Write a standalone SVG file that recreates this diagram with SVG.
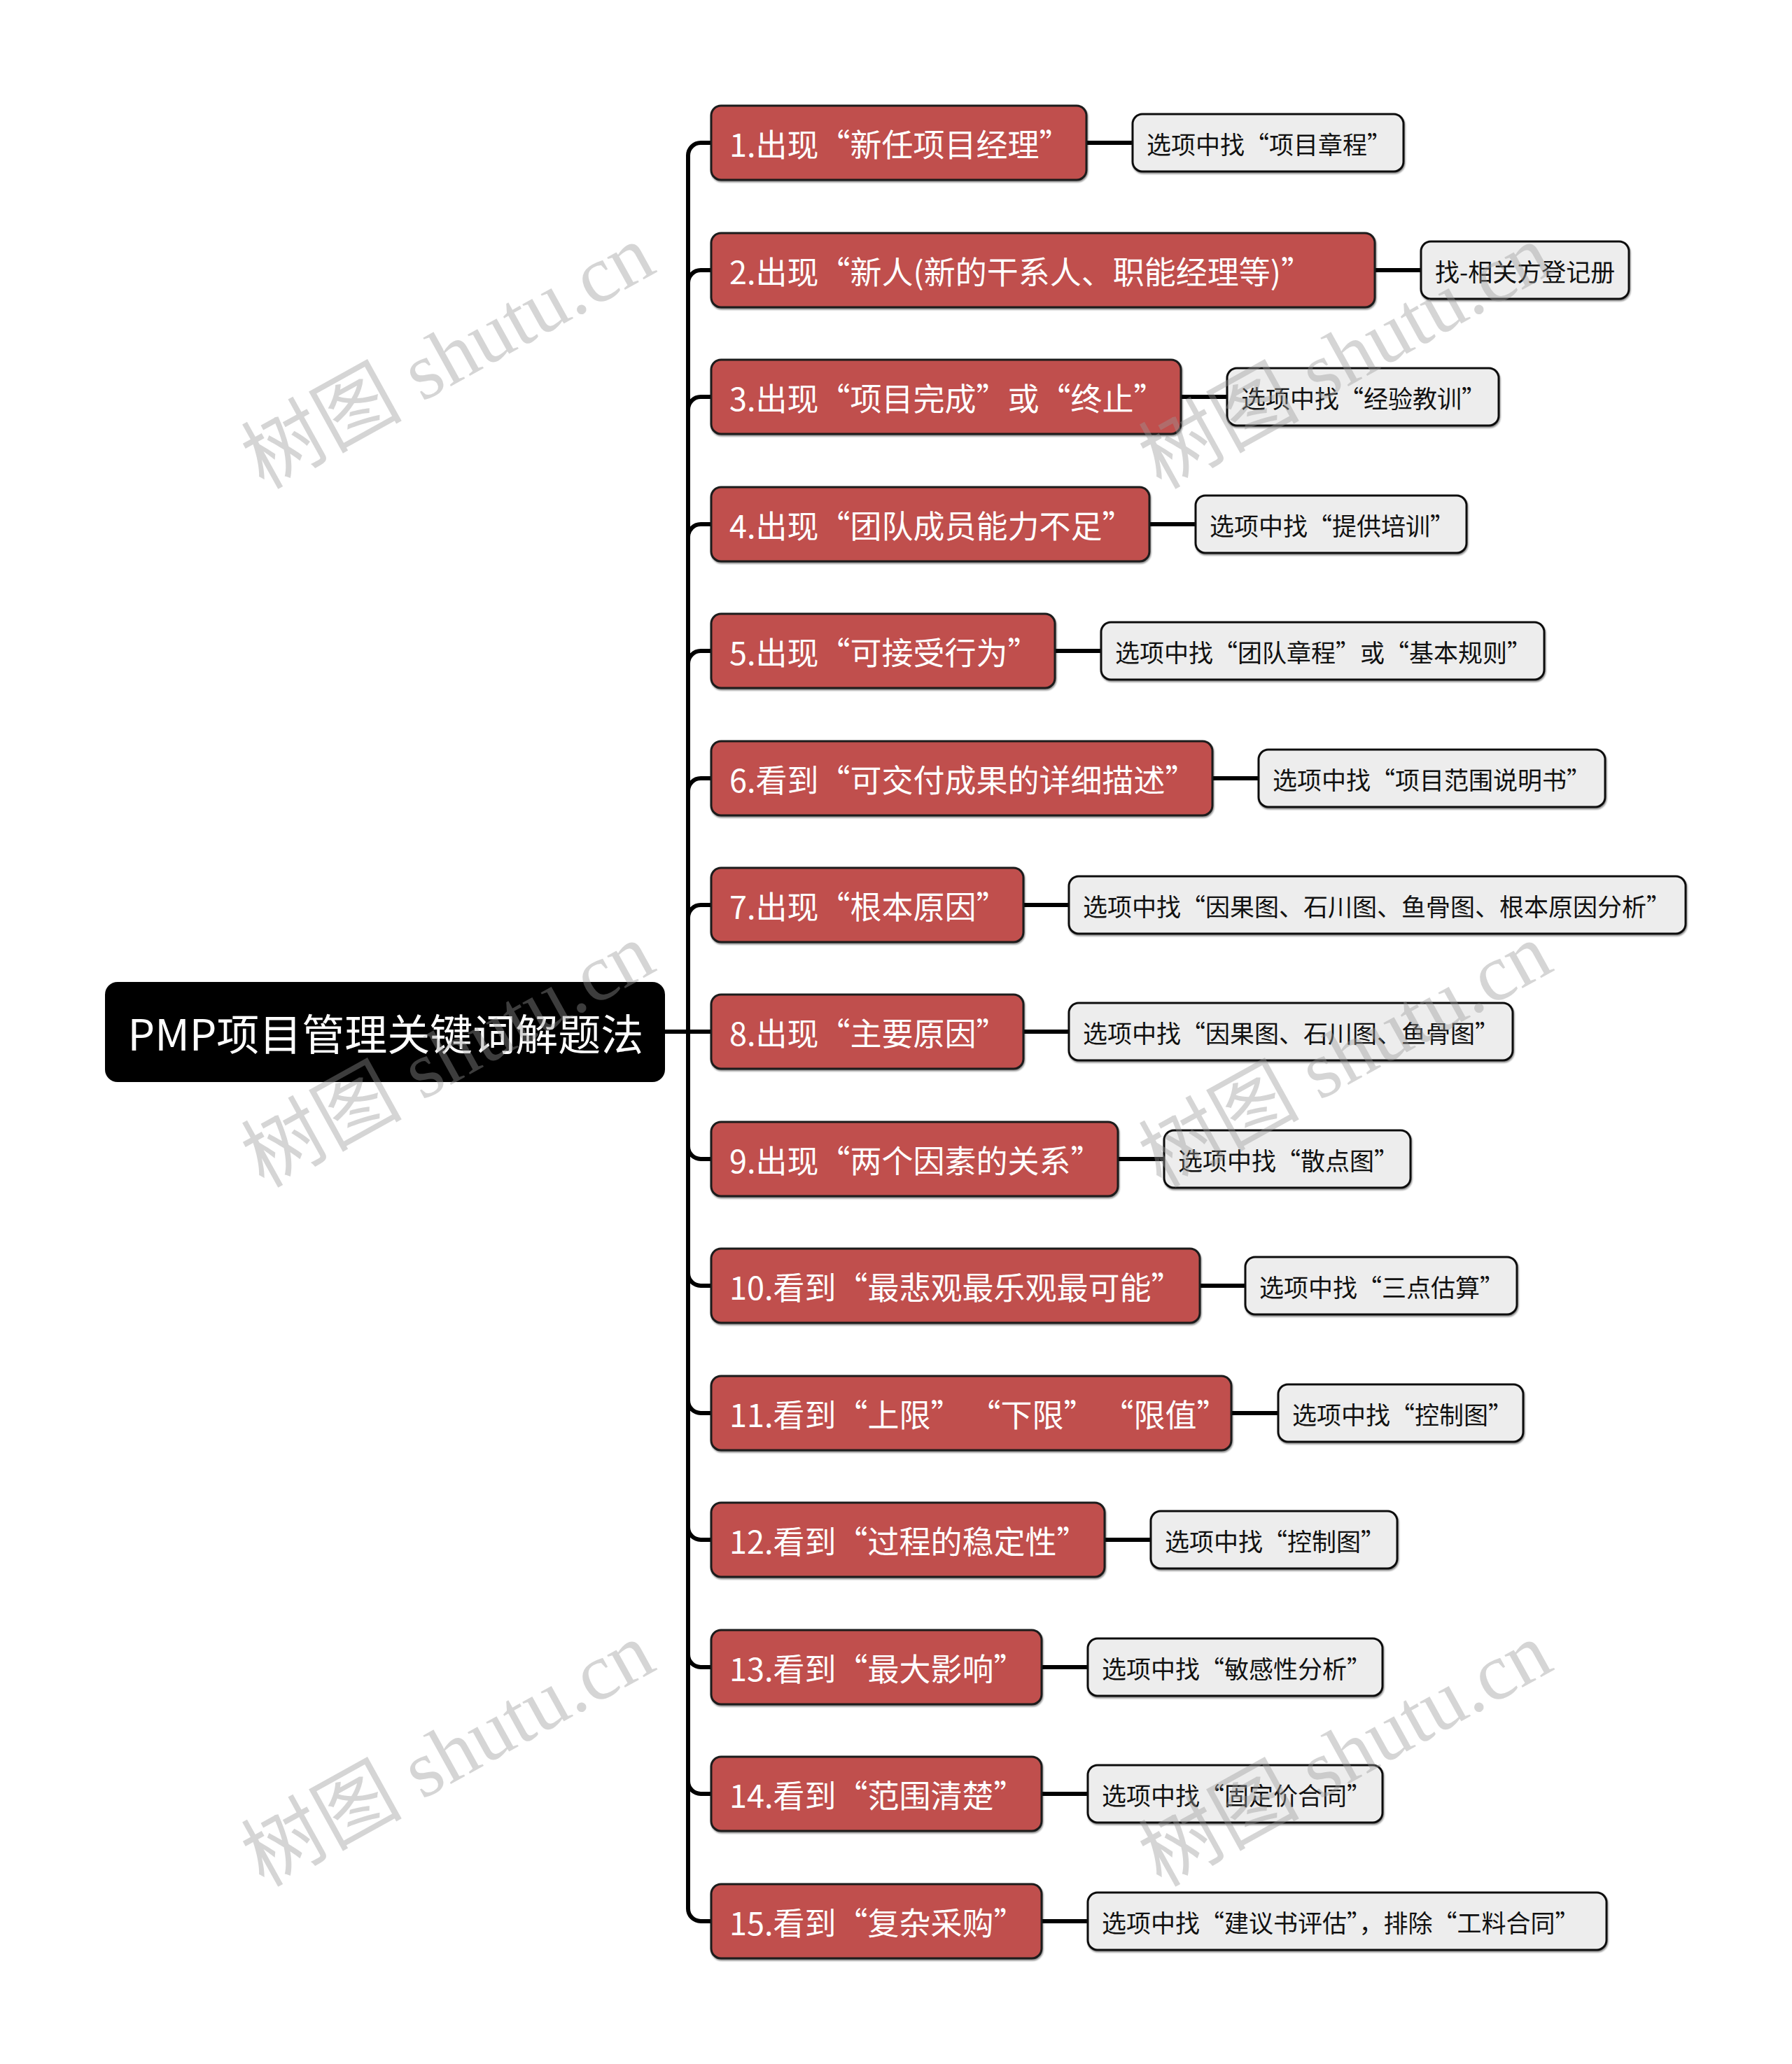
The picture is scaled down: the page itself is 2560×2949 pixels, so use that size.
<svg xmlns="http://www.w3.org/2000/svg" width="2560" height="2949" viewBox="0 0 2560 2949">
<style>
text { font-family: "Noto Sans CJK SC", "Noto Sans", sans-serif; }
.root rect { fill: #000; }
.root text { fill: #fff; font-size: 61px; text-anchor: middle; dominant-baseline: central; }
.n1 rect { fill: #c0504d; stroke: #1a1a1a; stroke-width: 3; filter: url(#sh); }
.n1 text { fill: #fff; font-size: 45px; dominant-baseline: central; }
.n2 rect { fill: #ededed; stroke: #111; stroke-width: 3; filter: url(#sh); }
.n2 text { fill: #111; font-size: 35px; dominant-baseline: central; }
#connectors path { fill: none; stroke: #000; stroke-width: 6; stroke-linecap: butt; }
.wm { font-family: "Liberation Serif", "Noto Sans CJK SC", serif; font-size: 115px; fill: #999; opacity: 0.4; text-anchor: middle; dominant-baseline: central; }
</style>
<defs>
<filter id="sh" x="-5%" y="-20%" width="110%" height="150%">
<feDropShadow dx="1" dy="2" stdDeviation="1.2" flood-color="#000" flood-opacity="0.45"/>
</filter>
</defs>
<rect width="2560" height="2949" fill="#fff"/>

<g id="connectors">
<path d="M950 1474 H1016"/>
<path d="M983 1474 V222 A18 18 0 0 1 1001 204 H1016"/>
<path d="M983 1474 V404 A18 18 0 0 1 1001 386 H1016"/>
<path d="M983 1474 V585 A18 18 0 0 1 1001 567 H1016"/>
<path d="M983 1474 V767 A18 18 0 0 1 1001 749 H1016"/>
<path d="M983 1474 V948 A18 18 0 0 1 1001 930 H1016"/>
<path d="M983 1474 V1130 A18 18 0 0 1 1001 1112 H1016"/>
<path d="M983 1474 V1311 A18 18 0 0 1 1001 1293 H1016"/>
<path d="M983 1474 V1638 A18 18 0 0 0 1001 1656 H1016"/>
<path d="M983 1474 V1819 A18 18 0 0 0 1001 1837 H1016"/>
<path d="M983 1474 V2001 A18 18 0 0 0 1001 2019 H1016"/>
<path d="M983 1474 V2182 A18 18 0 0 0 1001 2200 H1016"/>
<path d="M983 1474 V2364 A18 18 0 0 0 1001 2382 H1016"/>
<path d="M983 1474 V2545 A18 18 0 0 0 1001 2563 H1016"/>
<path d="M983 1474 V2727 A18 18 0 0 0 1001 2745 H1016"/>
<path d="M1552 204 H1618"/>
<path d="M1964 386 H2030"/>
<path d="M1687 567 H1753"/>
<path d="M1642 749 H1708"/>
<path d="M1507 930 H1573"/>
<path d="M1732 1112 H1798"/>
<path d="M1462 1293 H1527"/>
<path d="M1462 1474 H1527"/>
<path d="M1597 1656 H1663"/>
<path d="M1714 1837 H1779"/>
<path d="M1759 2019 H1826"/>
<path d="M1578 2200 H1644"/>
<path d="M1488 2382 H1554"/>
<path d="M1488 2563 H1554"/>
<path d="M1488 2745 H1554"/>
</g>

<g id="root" class="root">
<rect x="150" y="1403" width="800" height="143" rx="18"/>
<text x="551" y="1474">PMP项目管理关键词解题法</text>
</g>

<g id="n1" class="n1"><rect x="1016" y="151" width="536" height="106" rx="14"/><text x="1042" y="204">1.出现“新任项目经理”</text></g>
<g id="n2" class="n1"><rect x="1016" y="333" width="948" height="106" rx="14"/><text x="1042" y="386">2.出现“新人(新的干系人、职能经理等)”</text></g>
<g id="n3" class="n1"><rect x="1016" y="514" width="671" height="106" rx="14"/><text x="1042" y="567">3.出现“项目完成”或“终止”</text></g>
<g id="n4" class="n1"><rect x="1016" y="696" width="626" height="106" rx="14"/><text x="1042" y="749">4.出现“团队成员能力不足”</text></g>
<g id="n5" class="n1"><rect x="1016" y="877" width="491" height="106" rx="14"/><text x="1042" y="930">5.出现“可接受行为”</text></g>
<g id="n6" class="n1"><rect x="1016" y="1059" width="716" height="106" rx="14"/><text x="1042" y="1112">6.看到“可交付成果的详细描述”</text></g>
<g id="n7" class="n1"><rect x="1016" y="1240" width="446" height="106" rx="14"/><text x="1042" y="1293">7.出现“根本原因”</text></g>
<g id="n8" class="n1"><rect x="1016" y="1421" width="446" height="106" rx="14"/><text x="1042" y="1474">8.出现“主要原因”</text></g>
<g id="n9" class="n1"><rect x="1016" y="1603" width="581" height="106" rx="14"/><text x="1042" y="1656">9.出现“两个因素的关系”</text></g>
<g id="n10" class="n1"><rect x="1016" y="1784" width="698" height="106" rx="14"/><text x="1042" y="1837">10.看到“最悲观最乐观最可能”</text></g>
<g id="n11" class="n1"><rect x="1016" y="1966" width="743" height="106" rx="14"/><text x="1042" y="2019">11.看到“上限” “下限” “限值”</text></g>
<g id="n12" class="n1"><rect x="1016" y="2147" width="562" height="106" rx="14"/><text x="1042" y="2200">12.看到“过程的稳定性”</text></g>
<g id="n13" class="n1"><rect x="1016" y="2329" width="472" height="106" rx="14"/><text x="1042" y="2382">13.看到“最大影响”</text></g>
<g id="n14" class="n1"><rect x="1016" y="2510" width="472" height="106" rx="14"/><text x="1042" y="2563">14.看到“范围清楚”</text></g>
<g id="n15" class="n1"><rect x="1016" y="2692" width="472" height="106" rx="14"/><text x="1042" y="2745">15.看到“复杂采购”</text></g>

<g id="c1" class="n2"><rect x="1618" y="163" width="387" height="82" rx="14"/><text x="1638" y="204">选项中找“项目章程”</text></g>
<g id="c2" class="n2"><rect x="2030" y="345" width="297" height="82" rx="14"/><text x="2050" y="386">找-相关方登记册</text></g>
<g id="c3" class="n2"><rect x="1753" y="526" width="388" height="82" rx="14"/><text x="1773" y="567">选项中找“经验教训”</text></g>
<g id="c4" class="n2"><rect x="1708" y="708" width="387" height="82" rx="14"/><text x="1728" y="749">选项中找“提供培训”</text></g>
<g id="c5" class="n2"><rect x="1573" y="889" width="633" height="82" rx="14"/><text x="1593" y="930">选项中找“团队章程”或“基本规则”</text></g>
<g id="c6" class="n2"><rect x="1798" y="1071" width="495" height="82" rx="14"/><text x="1818" y="1112">选项中找“项目范围说明书”</text></g>
<g id="c7" class="n2"><rect x="1527" y="1252" width="881" height="82" rx="14"/><text x="1547" y="1293">选项中找“因果图、石川图、鱼骨图、根本原因分析”</text></g>
<g id="c8" class="n2"><rect x="1527" y="1433" width="634" height="82" rx="14"/><text x="1547" y="1474">选项中找“因果图、石川图、鱼骨图”</text></g>
<g id="c9" class="n2"><rect x="1663" y="1615" width="352" height="82" rx="14"/><text x="1683" y="1656">选项中找“散点图”</text></g>
<g id="c10" class="n2"><rect x="1779" y="1796" width="388" height="82" rx="14"/><text x="1799" y="1837">选项中找“三点估算”</text></g>
<g id="c11" class="n2"><rect x="1826" y="1978" width="350" height="82" rx="14"/><text x="1846" y="2019">选项中找“控制图”</text></g>
<g id="c12" class="n2"><rect x="1644" y="2159" width="352" height="82" rx="14"/><text x="1664" y="2200">选项中找“控制图”</text></g>
<g id="c13" class="n2"><rect x="1554" y="2341" width="421" height="82" rx="14"/><text x="1574" y="2382">选项中找“敏感性分析”</text></g>
<g id="c14" class="n2"><rect x="1554" y="2522" width="421" height="82" rx="14"/><text x="1574" y="2563">选项中找“固定价合同”</text></g>
<g id="c15" class="n2"><rect x="1554" y="2704" width="741" height="82" rx="14"/><text x="1574" y="2745">选项中找“建议书评估”，排除“工料合同”</text></g>

<g id="watermarks">
<text class="wm" x="640" y="510" transform="rotate(-29 640 510)">树图 shutu.cn</text>
<text class="wm" x="1922" y="510" transform="rotate(-29 1922 510)">树图 shutu.cn</text>
<text class="wm" x="640" y="1508" transform="rotate(-29 640 1508)">树图 shutu.cn</text>
<text class="wm" x="1922" y="1508" transform="rotate(-29 1922 1508)">树图 shutu.cn</text>
<text class="wm" x="640" y="2507" transform="rotate(-29 640 2507)">树图 shutu.cn</text>
<text class="wm" x="1922" y="2507" transform="rotate(-29 1922 2507)">树图 shutu.cn</text>
</g>
</svg>
